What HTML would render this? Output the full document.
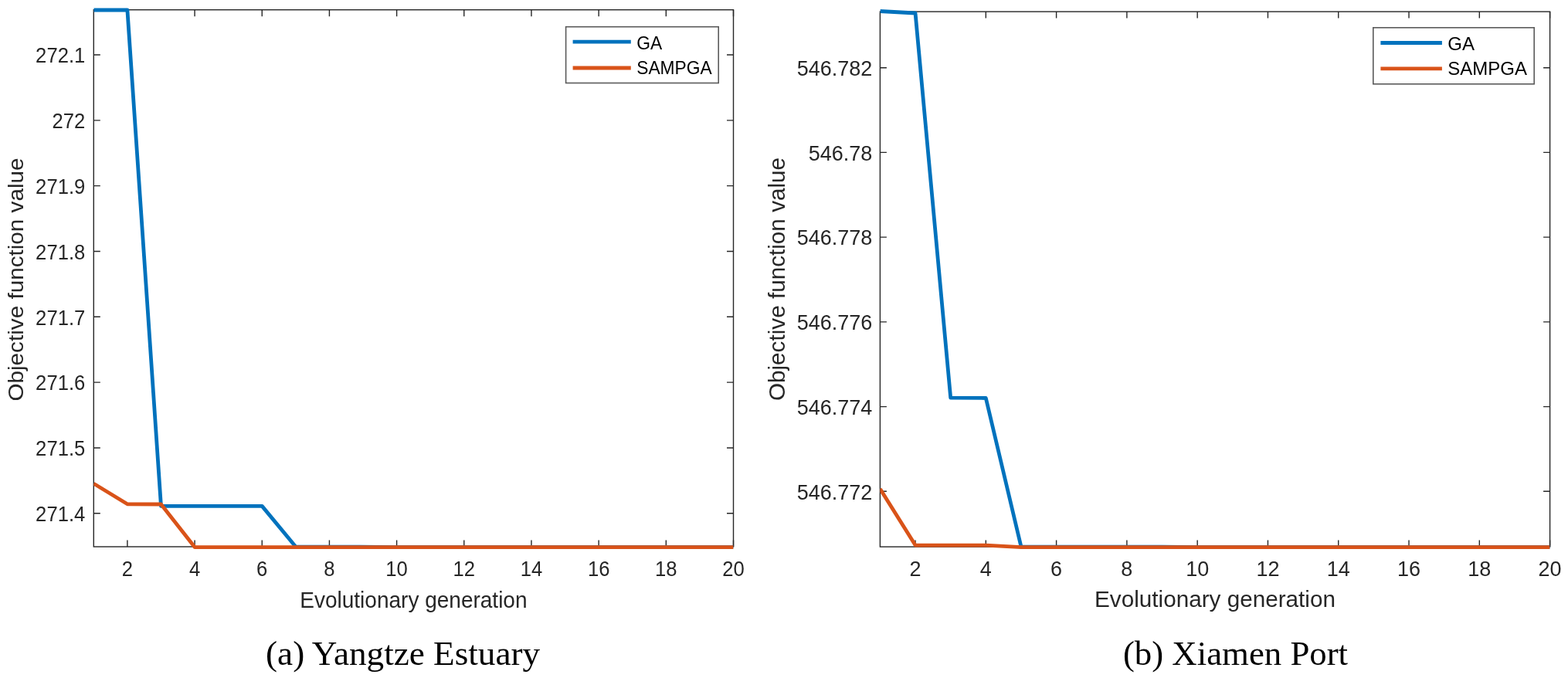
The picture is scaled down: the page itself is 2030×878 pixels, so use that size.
<!DOCTYPE html>
<html><head><meta charset="utf-8"><title>Convergence curves</title>
<style>html,body{margin:0;padding:0;background:#fff;width:2030px;height:878px;overflow:hidden}svg{display:block}</style>
</head><body>
<svg width="2030" height="878" viewBox="0 0 2030 878" font-family="'Liberation Sans', Arial, sans-serif" fill="#262626">
<clipPath id="c1"><rect x="121.3" y="9.7" width="828.2" height="701.3"/></clipPath>
<rect x="121.3" y="12.7" width="828.2" height="695.3" fill="none" stroke="#262626" stroke-width="1.4"/>
<path d="M164.89,708v-8.5M164.89,12.7v8.5M252.07,708v-8.5M252.07,12.7v8.5M339.25,708v-8.5M339.25,12.7v8.5M426.43,708v-8.5M426.43,12.7v8.5M513.61,708v-8.5M513.61,12.7v8.5M600.78,708v-8.5M600.78,12.7v8.5M687.96,708v-8.5M687.96,12.7v8.5M775.14,708v-8.5M775.14,12.7v8.5M862.32,708v-8.5M862.32,12.7v8.5M949.5,708v-8.5M949.5,12.7v8.5M121.3,71h8.5M949.5,71h-8.5M121.3,155.83h8.5M949.5,155.83h-8.5M121.3,240.66h8.5M949.5,240.66h-8.5M121.3,325.49h8.5M949.5,325.49h-8.5M121.3,410.32h8.5M949.5,410.32h-8.5M121.3,495.15h8.5M949.5,495.15h-8.5M121.3,579.98h8.5M949.5,579.98h-8.5M121.3,664.81h8.5M949.5,664.81h-8.5" stroke="#262626" stroke-width="1.4" fill="none"/>
<polyline clip-path="url(#c1)" points="121.3,13 164.89,13 208.48,655.4 252.07,655.4 295.66,655.4 339.25,655.4 382.84,708 465.66,708.1 513.61,708.7 949.5,708.7" fill="none" stroke="#0072BD" stroke-width="4.8" stroke-linejoin="round" stroke-linecap="butt"/>
<polyline clip-path="url(#c1)" points="121.3,626.2 164.89,652.8 208.48,653 252.07,708.6 949.5,708.6" fill="none" stroke="#D95319" stroke-width="4.8" stroke-linejoin="round" stroke-linecap="butt"/>
<text transform="translate(164.89,746) scale(0.95,1)" text-anchor="middle" font-size="27">2</text>
<text transform="translate(252.07,746) scale(0.95,1)" text-anchor="middle" font-size="27">4</text>
<text transform="translate(339.25,746) scale(0.95,1)" text-anchor="middle" font-size="27">6</text>
<text transform="translate(426.43,746) scale(0.95,1)" text-anchor="middle" font-size="27">8</text>
<text transform="translate(513.61,746) scale(0.95,1)" text-anchor="middle" font-size="27">10</text>
<text transform="translate(600.78,746) scale(0.95,1)" text-anchor="middle" font-size="27">12</text>
<text transform="translate(687.96,746) scale(0.95,1)" text-anchor="middle" font-size="27">14</text>
<text transform="translate(775.14,746) scale(0.95,1)" text-anchor="middle" font-size="27">16</text>
<text transform="translate(862.32,746) scale(0.95,1)" text-anchor="middle" font-size="27">18</text>
<text transform="translate(949.5,746) scale(0.95,1)" text-anchor="middle" font-size="27">20</text>
<text transform="translate(110.3,81.3) scale(0.95,1)" text-anchor="end" font-size="27">272.1</text>
<text transform="translate(110.3,166.13) scale(0.95,1)" text-anchor="end" font-size="27">272</text>
<text transform="translate(110.3,250.96) scale(0.95,1)" text-anchor="end" font-size="27">271.9</text>
<text transform="translate(110.3,335.79) scale(0.95,1)" text-anchor="end" font-size="27">271.8</text>
<text transform="translate(110.3,420.62) scale(0.95,1)" text-anchor="end" font-size="27">271.7</text>
<text transform="translate(110.3,505.45) scale(0.95,1)" text-anchor="end" font-size="27">271.6</text>
<text transform="translate(110.3,590.28) scale(0.95,1)" text-anchor="end" font-size="27">271.5</text>
<text transform="translate(110.3,675.11) scale(0.95,1)" text-anchor="end" font-size="27">271.4</text>
<text transform="translate(535.4,786.5) scale(0.943,1)" text-anchor="middle" font-size="29.7">Evolutionary generation</text>
<text transform="translate(30,362) scale(0.95,1) rotate(-90)" text-anchor="middle" font-size="29.7">Objective function value</text>
<rect x="732.6" y="34.7" width="197.6" height="72.8" fill="#fff" stroke="#5a5a5a" stroke-width="1.6"/>
<path d="M741.6,54.2H816.8" stroke="#0072BD" stroke-width="4.8"/>
<text transform="translate(824.2,63.8) scale(0.95,1)" font-size="24" fill="#000">GA</text>
<path d="M741.6,88H816.8" stroke="#D95319" stroke-width="4.8"/>
<text transform="translate(824.2,96.4) scale(0.95,1)" font-size="24" fill="#000">SAMPGA</text>
<clipPath id="c2"><rect x="1139.4" y="12.1" width="867.2" height="699"/></clipPath>
<rect x="1139.4" y="15.1" width="867.2" height="693" fill="none" stroke="#262626" stroke-width="1.4"/>
<path d="M1185.04,708.1v-8.5M1185.04,15.1v8.5M1276.33,708.1v-8.5M1276.33,15.1v8.5M1367.61,708.1v-8.5M1367.61,15.1v8.5M1458.89,708.1v-8.5M1458.89,15.1v8.5M1550.18,708.1v-8.5M1550.18,15.1v8.5M1641.46,708.1v-8.5M1641.46,15.1v8.5M1732.75,708.1v-8.5M1732.75,15.1v8.5M1824.03,708.1v-8.5M1824.03,15.1v8.5M1915.32,708.1v-8.5M1915.32,15.1v8.5M2006.6,708.1v-8.5M2006.6,15.1v8.5M1139.4,87.7h8.5M2006.6,87.7h-8.5M1139.4,197.42h8.5M2006.6,197.42h-8.5M1139.4,307.14h8.5M2006.6,307.14h-8.5M1139.4,416.86h8.5M2006.6,416.86h-8.5M1139.4,526.58h8.5M2006.6,526.58h-8.5M1139.4,636.3h8.5M2006.6,636.3h-8.5" stroke="#262626" stroke-width="1.4" fill="none"/>
<polyline clip-path="url(#c2)" points="1139.4,14.5 1185.04,17 1230.68,515.1 1276.33,515.5 1321.97,708 1504.54,708.1 1550.18,708.7 2006.6,708.7" fill="none" stroke="#0072BD" stroke-width="4.8" stroke-linejoin="round" stroke-linecap="butt"/>
<polyline clip-path="url(#c2)" points="1139.4,633 1185.04,706.1 1230.68,706.1 1276.33,706.2 1321.97,708.6 2006.6,708.6" fill="none" stroke="#D95319" stroke-width="4.8" stroke-linejoin="round" stroke-linecap="butt"/>
<text transform="translate(1185.04,746) scale(1.0,1)" text-anchor="middle" font-size="27">2</text>
<text transform="translate(1276.33,746) scale(1.0,1)" text-anchor="middle" font-size="27">4</text>
<text transform="translate(1367.61,746) scale(1.0,1)" text-anchor="middle" font-size="27">6</text>
<text transform="translate(1458.89,746) scale(1.0,1)" text-anchor="middle" font-size="27">8</text>
<text transform="translate(1550.18,746) scale(1.0,1)" text-anchor="middle" font-size="27">10</text>
<text transform="translate(1641.46,746) scale(1.0,1)" text-anchor="middle" font-size="27">12</text>
<text transform="translate(1732.75,746) scale(1.0,1)" text-anchor="middle" font-size="27">14</text>
<text transform="translate(1824.03,746) scale(1.0,1)" text-anchor="middle" font-size="27">16</text>
<text transform="translate(1915.32,746) scale(1.0,1)" text-anchor="middle" font-size="27">18</text>
<text transform="translate(2006.6,746) scale(1.0,1)" text-anchor="middle" font-size="27">20</text>
<text transform="translate(1129.3,98) scale(1.0,1)" text-anchor="end" font-size="27">546.782</text>
<text transform="translate(1129.3,207.72) scale(1.0,1)" text-anchor="end" font-size="27">546.78</text>
<text transform="translate(1129.3,317.44) scale(1.0,1)" text-anchor="end" font-size="27">546.778</text>
<text transform="translate(1129.3,427.16) scale(1.0,1)" text-anchor="end" font-size="27">546.776</text>
<text transform="translate(1129.3,536.88) scale(1.0,1)" text-anchor="end" font-size="27">546.774</text>
<text transform="translate(1129.3,646.6) scale(1.0,1)" text-anchor="end" font-size="27">546.772</text>
<text transform="translate(1573,786.3) scale(1.0,1)" text-anchor="middle" font-size="29.7">Evolutionary generation</text>
<text transform="translate(1016.1,361.5) scale(1.0,1) rotate(-90)" text-anchor="middle" font-size="29.7">Objective function value</text>
<rect x="1777.8" y="35.8" width="208.4" height="73" fill="#fff" stroke="#5a5a5a" stroke-width="1.6"/>
<path d="M1787.4,55.5H1866.9" stroke="#0072BD" stroke-width="4.8"/>
<text transform="translate(1874.3,65.2) scale(1.0,1)" font-size="24" fill="#000">GA</text>
<path d="M1787.4,88.8H1866.9" stroke="#D95319" stroke-width="4.8"/>
<text transform="translate(1874.3,97.2) scale(1.0,1)" font-size="24" fill="#000">SAMPGA</text>
<text x="521.6" y="861.3" text-anchor="middle" font-family="'Liberation Serif', 'Times New Roman', serif" font-size="45.2" fill="#000">(a) Yangtze Estuary</text>
<text x="1599.5" y="861.4" text-anchor="middle" font-family="'Liberation Serif', 'Times New Roman', serif" font-size="44.8" fill="#000">(b) Xiamen Port</text>
</svg>
</body></html>
